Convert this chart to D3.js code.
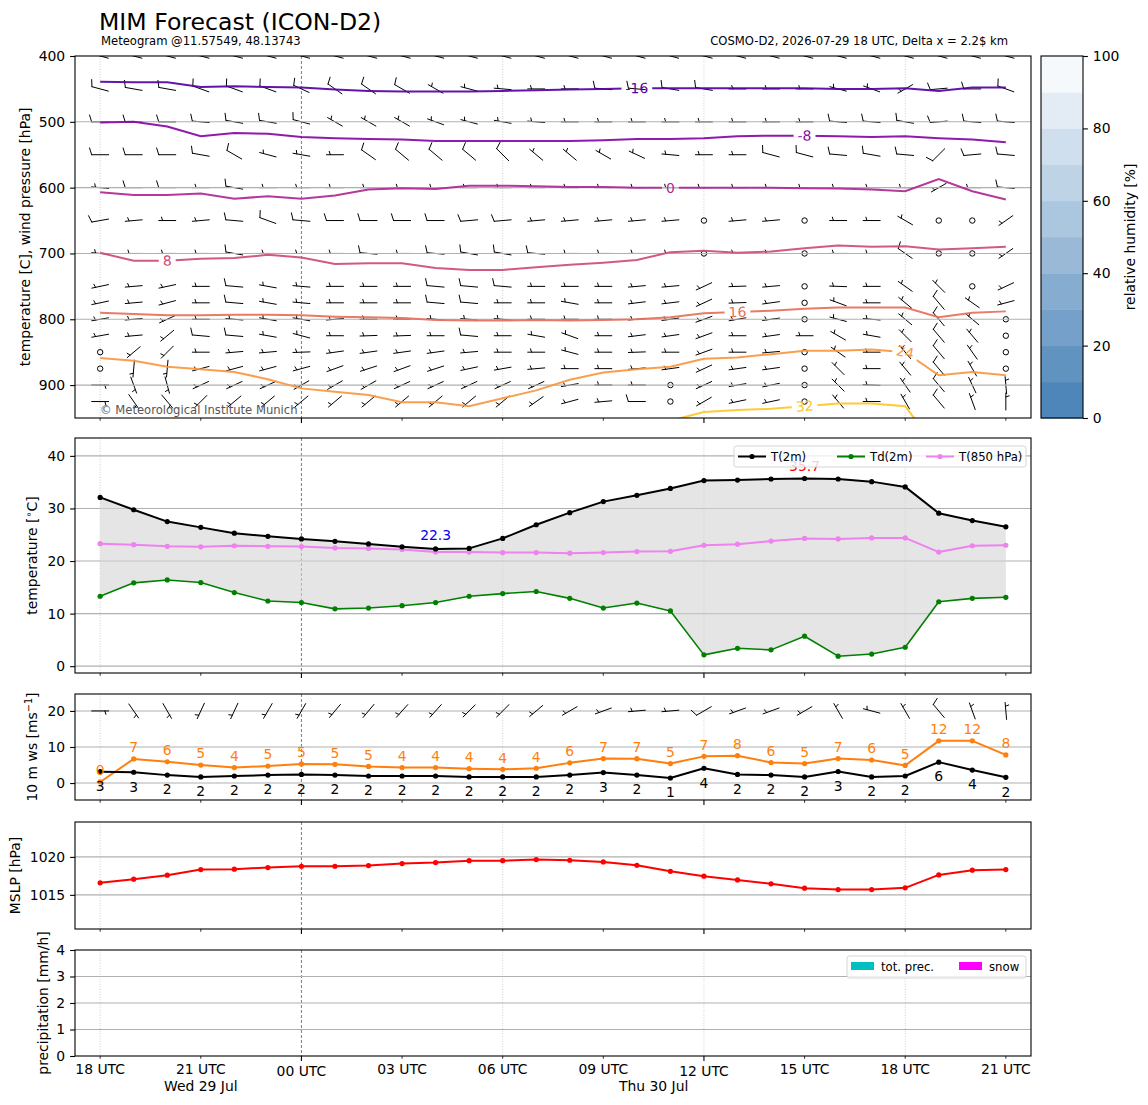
<!DOCTYPE html>
<html>
<head>
<meta charset="utf-8">
<title>MIM Forecast (ICON-D2)</title>
<script src="https://cdn.jsdelivr.net/npm/d3@7"></script>
<style>
  body { margin: 0; background: #fff; }
  svg { font-family: "DejaVu Sans", sans-serif; }
</style>
</head>
<body>
<script>
// ---------------- data ----------------
var hours = [0,1,2,3,4,5,6,7,8,9,10,11,12,13,14,15,16,17,18,19,20,21,22,23,24,25,26,27];
var tickHours = [0,3,6,9,12,15,18,21,24,27];
var tickLabels = ["18 UTC","21 UTC","00 UTC","03 UTC","06 UTC","09 UTC","12 UTC","15 UTC","18 UTC","21 UTC"];
var majorTickHours = [6,18];
var gridHours = [0,12,18,24];
var midnightHour = 6;
var dayLabels = ["Wed 29 Jul","Thu 30 Jul"];
var dayLabelHours = [3,16.5];

// isotherms: pressure [hPa] of each temperature level at every hour
var isoLevels = [-16,-8,0,8,16,24,32];
var isoM16 = [439,440,440,447,446,447,448,451,453,454,454,454,453,452,451,450,449,449,449,449,449,449,450,450,449,453,448,448];
var isoM8  = [501,500,507,522,517,518,523,525,526,527,529,529,529,529,529,528,526,526,525,522,521,521,522,523,522,525,527,531];
var iso0   = [607,611,611,609,617,613,617,612,603,601,602,597,597,598,599,599,600,600,600,600,600,601,601.5,603,605.5,587,605.5,618];
var iso8   = [699,711,711,708,707,702,706,716,715,715,722,725,725,721,717,714,710,698,696,699,697,692,688,690,689,694,692,690];
var iso16  = [790,792,794,794,793,793,794,796,797,798,801,802,802,801,802,801,800,797,791,789,787,784,782,782,782,797,790,788];
var iso24  = [859,863,872,876,880,891,905,910,915,926,926,932,920,908,892,881,876,872,860,858,853,848,848,846,850,885,880,885];
var iso32  = [null,null,null,null,null,null,null,null,null,null,null,null,null,null,null,null,null,954,941,938,936,932,928,928,932,1000,null,null];
var isoLabelHours = [16,21,17,2,19,24,21];

// wind profile: direction [deg, from] and speed [kt] per pressure level
var windLevels = [400,450,500,550,600,650,700,750,775,800,825,850,875,900,925];
var dir400 = [285,285,285,285,285,285,285,285,285,285,285,285,285,285,285,285,285,285,285,285,285,285,285,285,285,285,285,285];
var spd400 = [10,10,10,10,10,10,10,10,10,10,10,10,10,10,10,10,10,10,10,10,10,10,10,10,10,10,10,10];
var dir450 = [285,280,280,290,290,290,295,305,305,300,300,285,275,270,270,275,275,280,280,270,270,270,285,290,240,265,270,290];
var spd450 = [10,10,10,10,10,10,10,10,10,10,5,5,5,5,5,10,10,10,10,5,5,5,5,5,5,10,10,10];
var dir500 = [270,270,270,275,280,280,285,300,300,300,290,285,280,275,270,270,270,270,270,270,270,270,275,275,280,265,275,275];
var spd500 = [10,10,10,10,10,10,10,5,5,5,5,5,5,5,5,5,5,5,5,5,5,5,10,10,10,10,10,10];
var dir550 = [270,270,270,280,300,285,280,270,305,310,310,310,315,310,310,300,295,275,270,270,285,285,275,280,275,225,265,275];
var spd550 = [10,10,10,10,10,5,5,5,10,10,10,10,10,5,5,5,5,5,5,5,10,10,10,10,10,10,10,10];
var dir600 = [275,270,270,270,280,270,270,270,270,270,270,270,270,270,270,270,270,270,270,270,270,270,270,270,270,240,270,275];
var spd600 = [5,10,10,5,10,5,5,5,5,5,5,5,5,5,5,5,5,5,5,5,5,5,5,5,5,5,5,10];
var dir650 = [260,265,270,265,275,290,275,270,270,270,270,265,265,265,265,265,265,265,0,265,265,0,270,270,300,0,0,235];
var spd650 = [10,5,5,5,10,10,10,10,10,10,10,10,10,5,5,5,5,5,0,5,5,0,5,5,5,0,0,5];
var dir700 = [275,270,270,270,280,270,270,270,275,270,275,280,280,275,270,270,270,270,0,270,270,0,270,270,305,0,0,235];
var spd700 = [5,5,5,5,10,5,5,5,10,5,10,10,10,10,5,5,5,5,0,5,5,0,5,5,10,0,0,5];
var dir750 = [258,265,258,270,275,280,275,270,270,270,275,275,275,270,270,270,265,265,245,268,265,0,272,270,305,315,0,245];
var spd750 = [5,5,5,5,10,5,5,5,5,5,10,10,10,5,5,5,5,5,5,5,5,0,5,5,5,5,0,5];
var dir775 = [258,265,255,270,275,280,275,270,270,270,275,275,270,270,280,270,263,263,245,268,262,0,290,270,310,320,305,255];
var spd775 = [5,5,5,5,10,5,5,5,5,5,10,10,5,5,5,5,5,5,5,5,5,0,5,5,5,10,5,5];
var dir800 = [260,265,245,270,275,280,280,265,270,270,275,275,275,270,270,270,265,262,250,260,262,0,285,275,310,320,310,0];
var spd800 = [5,5,5,5,5,5,5,5,5,5,5,5,5,5,5,5,5,5,5,5,5,0,5,5,5,10,5,0];
var dir825 = [260,265,230,275,275,280,285,270,268,268,270,275,270,280,290,270,263,262,250,270,262,270,300,280,315,320,320,0];
var spd825 = [5,5,5,10,10,5,5,5,5,5,5,10,5,5,5,5,5,5,5,5,5,5,5,5,5,10,5,0];
var dir850 = [0,230,225,270,265,265,268,262,262,262,262,265,270,270,285,270,268,270,250,270,265,0,305,270,320,320,325,0];
var spd850 = [0,5,5,5,5,5,5,5,5,5,5,5,5,5,5,5,5,5,5,5,5,0,5,5,5,10,5,0];
var dir875 = [0,185,185,255,255,255,255,250,252,250,252,258,260,265,270,270,265,262,245,262,262,0,315,270,320,320,330,0];
var spd875 = [0,5,5,5,5,5,5,5,5,5,5,5,5,5,5,5,5,5,5,5,5,0,5,5,5,10,5,0];
var dir900 = [90,160,165,245,245,245,240,240,240,245,245,245,245,245,260,270,270,0,245,260,258,0,315,272,325,320,335,355];
var spd900 = [5,5,5,5,5,5,5,5,5,5,5,5,5,5,5,5,5,0,5,5,5,0,5,5,5,10,5,5];
var dir925 = [90,145,140,225,230,230,230,230,230,230,230,230,230,235,255,265,270,0,240,258,258,0,320,270,330,320,340,360];
var spd925 = [5,5,5,5,5,5,5,5,5,5,5,5,5,5,5,5,10,0,5,5,5,0,5,5,5,10,5,5];

// relative humidity colour bar
var rhLevels = [0,10,20,30,40,50,60,70,80,90,100];
var rhTicks = [0,20,40,60,80,100];

// surface
var t2m  = [32.1,29.75,27.5,26.4,25.3,24.7,24.2,23.75,23.25,22.7,22.3,22.4,24.3,26.9,29.2,31.3,32.5,33.8,35.3,35.4,35.6,35.7,35.6,35.1,34.1,29.1,27.7,26.5];
var td2m = [13.3,15.85,16.4,15.9,14.0,12.4,12.1,10.9,11.05,11.5,12.1,13.3,13.8,14.2,12.9,11.05,12.0,10.5,2.15,3.4,3.1,5.7,1.9,2.3,3.6,12.25,12.9,13.1];
var t850 = [23.3,23.1,22.8,22.7,22.9,22.8,22.75,22.5,22.4,22.2,21.7,21.7,21.6,21.6,21.5,21.6,21.8,21.85,23.0,23.2,23.8,24.3,24.2,24.4,24.4,21.7,22.9,23.0];
var ws10   = [3.15,3.0,2.2,1.7,1.95,2.2,2.4,2.2,1.95,1.95,1.95,1.7,1.7,1.7,2.2,2.9,2.2,1.4,4.1,2.4,2.2,1.7,3.2,1.7,1.95,5.8,3.6,1.6];
var gust10 = [0.3,6.7,5.9,5.0,4.3,4.7,5.3,5.2,4.6,4.3,4.3,4.0,3.8,4.1,5.6,6.8,6.75,5.4,7.4,7.6,5.7,5.4,6.8,6.4,4.9,11.7,11.7,7.8];
var dir10  = [90,145,150,205,205,210,210,220,220,222,222,225,225,230,240,250,265,265,240,250,250,240,330,285,330,320,340,355];
var mslp = [1016.58,1017.06,1017.59,1018.33,1018.38,1018.6,1018.77,1018.77,1018.86,1019.12,1019.25,1019.5,1019.5,1019.65,1019.56,1019.34,1018.9,1018.1,1017.46,1016.97,1016.45,1015.88,1015.7,1015.7,1015.92,1017.63,1018.25,1018.33];
var totPrec = [0,0,0,0,0,0,0,0,0,0,0,0,0,0,0,0,0,0,0,0,0,0,0,0,0,0,0,0];
var snowPrec = [0,0,0,0,0,0,0,0,0,0,0,0,0,0,0,0,0,0,0,0,0,0,0,0,0,0,0,0];

// ---------------- layout ----------------
var width = 1148, height = 1105;
var left = 75, right = 1031;
var pProf = {top: 56, bottom: 418};
var pTemp = {top: 438, bottom: 673};
var pWind = {top: 694, bottom: 800};
var pSlp  = {top: 822, bottom: 929};
var pPrec = {top: 950, bottom: 1056};
var fs = 13.9;
var fsLegend = 11.7;

var svg = d3.select("body").append("svg")
  .attr("width", width).attr("height", height);

var x = d3.scaleLinear().domain([-0.75, 27.75]).range([left, right]);
var yP = d3.scaleLinear().domain([400, 950]).range([pProf.top, pProf.bottom]);
var yT = d3.scaleLinear().domain([-1.3, 43.4]).range([pTemp.bottom, pTemp.top]);
var yW = d3.scaleLinear().domain([-4.7, 24.7]).range([pWind.bottom, pWind.top]);
var yS = d3.scaleLinear().domain([1010.5, 1024.6]).range([pSlp.bottom, pSlp.top]);
var yR = d3.scaleLinear().domain([0, 4]).range([pPrec.bottom, pPrec.top]);

function vgrid(g, p) {
  gridHours.forEach(function(h) {
    g.append("line").attr("x1", x(h)).attr("x2", x(h)).attr("y1", p.top).attr("y2", p.bottom)
      .attr("stroke", "#c4c4c4").attr("stroke-width", 0.8).attr("stroke-dasharray", "1,1.6");
  });
  g.append("line").attr("x1", x(midnightHour)).attr("x2", x(midnightHour)).attr("y1", p.top).attr("y2", p.bottom)
    .attr("stroke", "#444").attr("stroke-width", 0.7).attr("stroke-dasharray", "3,2");
}

function hgrid(g, y, ticks) {
  ticks.forEach(function(t) {
    g.append("line").attr("x1", left).attr("x2", right).attr("y1", y(t)).attr("y2", y(t))
      .attr("stroke", "#b0b0b0").attr("stroke-width", 1.1);
  });
}

function yAxis(g, y, ticks, fmt) {
  var ax = g.append("g").attr("transform", "translate(" + left + ",0)")
    .call(d3.axisLeft(y).tickValues(ticks).tickFormat(fmt).tickSize(4.9).tickPadding(4.9));
  ax.attr("font-size", fs).attr("font-family", "DejaVu Sans");
  ax.select(".domain").remove();
  ax.selectAll("line").attr("stroke", "#000").attr("stroke-width", 1.1);
  ax.selectAll("text").attr("fill", "#000");
}

function xTicks(g, p) {
  tickHours.forEach(function(h) {
    var major = majorTickHours.indexOf(h) >= 0;
    g.append("line").attr("x1", x(h)).attr("x2", x(h))
      .attr("y1", p.bottom).attr("y2", p.bottom + (major ? 4.9 : 2.8))
      .attr("stroke", "#000").attr("stroke-width", major ? 1.1 : 0.8);
  });
}

function spine(g, p) {
  g.append("rect").attr("x", left).attr("y", p.top).attr("width", right - left).attr("height", p.bottom - p.top)
    .attr("fill", "none").attr("stroke", "#000").attr("stroke-width", 1.1);
}

function yLabel(g, cx, cy, parts) {
  var t = g.append("text").attr("transform", "translate(" + cx + "," + cy + ") rotate(-90)")
    .attr("text-anchor", "middle").attr("dy", "0.35em").attr("font-size", fs);
  parts.forEach(function(pt) {
    var s = t.append("tspan").text(pt.t);
    if (pt.sup) s.attr("font-size", fs * 0.7).attr("baseline-shift", "super");
  });
}

// wind barb (matplotlib style, pivot middle)
function barb(g, px, py, dir, spd, L) {
  var r = dir * Math.PI / 180;
  var dx = Math.sin(r), dy = Math.cos(r);
  var nx = dy, ny = -dx;
  function pt(s, h) { return [px + dx * s + nx * h, py - (dy * s + ny * h)]; }
  var mag = 5 * Math.floor(spd / 5 + 0.5);
  var nflag = Math.floor(mag / 50); mag = mag % 50;
  var nbarb = Math.floor(mag / 10); mag = mag % 10;
  var half = mag >= 5;
  if (nflag === 0 && nbarb === 0 && !half) {
    g.append("circle").attr("cx", px).attr("cy", py).attr("r", 0.16 * L)
      .attr("fill", "none").attr("stroke", "#000").attr("stroke-width", 1);
    return;
  }
  var fh = 0.4 * L, fw = 0.25 * L, sp = 0.15 * L;
  var path = d3.path();
  var a = pt(-L / 2, 0), b = pt(L / 2, 0);
  path.moveTo(a[0], a[1]); path.lineTo(b[0], b[1]);
  var off = L / 2;
  for (var i = 0; i < nflag; i++) {
    var f1 = pt(off, 0), f2 = pt(off - fw / 2, fh), f3 = pt(off - fw, 0);
    path.moveTo(f1[0], f1[1]); path.lineTo(f2[0], f2[1]); path.lineTo(f3[0], f3[1]); path.closePath();
    off -= fw + sp;
  }
  for (var j = 0; j < nbarb; j++) {
    var b1 = pt(off, 0), b2 = pt(off + fw / 2, fh);
    path.moveTo(b1[0], b1[1]); path.lineTo(b2[0], b2[1]);
    off -= sp;
  }
  if (half) {
    if (off === L / 2) off -= 1.5 * sp;
    var h1 = pt(off, 0), h2 = pt(off + fw / 4, fh / 2);
    path.moveTo(h1[0], h1[1]); path.lineTo(h2[0], h2[1]);
  }
  g.append("path").attr("d", path.toString()).attr("fill", nflag ? "#000" : "none")
    .attr("stroke", "#000").attr("stroke-width", 1).attr("stroke-linecap", "round");
}

function valAt(arr, h) {
  var i = Math.floor(h), f = h - i;
  if (f === 0 || arr[i + 1] == null) return arr[i];
  return arr[i] * (1 - f) + arr[i + 1] * f;
}

// ---------------- titles ----------------
svg.append("text").attr("x", 99).attr("y", 29.5).attr("font-size", 23.6).text("MIM Forecast (ICON-D2)");
svg.append("text").attr("x", 101).attr("y", 44.5).attr("font-size", 11.6).text("Meteogram @11.57549, 48.13743");
svg.append("text").attr("x", 1008).attr("y", 44.5).attr("font-size", 11.6).attr("text-anchor", "end")
  .text("COSMO-D2, 2026-07-29 18 UTC, Delta x = 2.2$ km");

var defs = svg.append("defs");

// ---------------- panel 1: profile ----------------
defs.append("clipPath").attr("id", "clipProf").append("rect")
  .attr("x", left).attr("y", pProf.top).attr("width", right - left).attr("height", pProf.bottom - pProf.top);

var g1 = svg.append("g");
vgrid(g1, pProf);

var windDirs = [dir400,dir450,dir500,dir550,dir600,dir650,dir700,dir750,dir775,dir800,dir825,dir850,dir875,dir900,dir925];
var windSpds = [spd400,spd450,spd500,spd550,spd600,spd650,spd700,spd750,spd775,spd800,spd825,spd850,spd875,spd900,spd925];
var gb = g1.append("g").attr("clip-path", "url(#clipProf)");
windLevels.forEach(function(lev, k) {
  hours.forEach(function(h, i) {
    barb(gb, x(h), yP(lev), windDirs[k][i], windSpds[k][i], 17);
  });
});

hgrid(g1, yP, [500,600,700,800,900]);

var isoSeries = [isoM16, isoM8, iso0, iso8, iso16, iso24, iso32];
var isoColor = function(t) { return d3.interpolatePlasma((t + 26) / 66); };
var gc = g1.append("g").attr("clip-path", "url(#clipProf)");
var isoLine = d3.line().defined(function(d) { return d != null; })
  .x(function(d, i) { return x(hours[i]); }).y(function(d) { return yP(d); });

isoLevels.forEach(function(lev, k) {
  var arr = isoSeries[k];
  var col = isoColor(lev);
  var h = isoLabelHours[k];
  var lx = x(h), ly = yP(valAt(arr, h));
  var p0 = valAt(arr, Math.max(h - 0.25, 0)), p1 = valAt(arr, Math.min(h + 0.25, 27));
  var ang = Math.atan2(yP(p1) - yP(p0), x(h + 0.25) - x(h - 0.25)) * 180 / Math.PI;
  ang = Math.max(-12, Math.min(12, ang));
  var lbl = gc.append("text").attr("x", 0).attr("y", 0).attr("text-anchor", "middle").attr("dy", "0.35em")
    .attr("font-size", fs).attr("fill", col)
    .attr("transform", "translate(" + lx + "," + ly + ") rotate(" + ang + ")")
    .text(String(lev));
  var tw = lbl.node().getComputedTextLength() + 8;
  var m = defs.append("mask").attr("id", "isoMask" + k).attr("maskUnits", "userSpaceOnUse")
    .attr("x", 0).attr("y", 0).attr("width", width).attr("height", height);
  m.append("rect").attr("x", 0).attr("y", 0).attr("width", width).attr("height", height).attr("fill", "#fff");
  m.append("rect").attr("x", -tw / 2).attr("y", -9).attr("width", tw).attr("height", 18).attr("fill", "#000")
    .attr("transform", "translate(" + lx + "," + ly + ") rotate(" + ang + ")");
  gc.insert("path", "text").attr("d", isoLine(arr)).attr("fill", "none").attr("stroke", col)
    .attr("stroke-width", 2).attr("stroke-opacity", 0.92).attr("mask", "url(#isoMask" + k + ")");
});

yAxis(g1, yP, [400,500,600,700,800,900], d3.format("d"));
xTicks(g1, pProf);
g1.append("text").attr("x", 100).attr("y", 414).attr("font-size", 11.6).attr("fill", "#555")
  .text("\u00a9 Meteorological Institute Munich");
spine(g1, pProf);
yLabel(g1, 25, (pProf.top + pProf.bottom) / 2, [{t: "temperature [C], wind pressure [hPa]"}]);

// colour bar
var cbx = 1041, cbw = 42;
var yRH = d3.scaleLinear().domain([0, 100]).range([pProf.bottom, pProf.top]);
var rhColor = d3.interpolateRgb("rgb(79,134,186)", "rgb(245,249,252)");
var gcb = svg.append("g");
gcb.selectAll("rect.band").data(rhLevels.slice(0, -1)).enter().append("rect")
  .attr("x", cbx).attr("width", cbw)
  .attr("y", function(d, i) { return yRH(rhLevels[i + 1]); })
  .attr("height", function(d, i) { return yRH(d) - yRH(rhLevels[i + 1]) + 0.5; })
  .attr("fill", function(d, i) { return rhColor(i / 9); });
gcb.append("rect").attr("x", cbx).attr("y", pProf.top).attr("width", cbw).attr("height", pProf.bottom - pProf.top)
  .attr("fill", "none").attr("stroke", "#000").attr("stroke-width", 1.1);
var cax = gcb.append("g").attr("transform", "translate(" + (cbx + cbw) + ",0)")
  .call(d3.axisRight(yRH).tickValues(rhTicks).tickSize(4.9).tickPadding(4.9).tickFormat(d3.format("d")));
cax.attr("font-size", fs).attr("font-family", "DejaVu Sans");
cax.select(".domain").remove();
cax.selectAll("line").attr("stroke", "#000").attr("stroke-width", 1.1);
cax.selectAll("text").attr("fill", "#000");
yLabel(gcb, 1130, (pProf.top + pProf.bottom) / 2, [{t: "relative humidity [%]"}]);

// ---------------- panel 2: temperature ----------------
var g2 = svg.append("g");
vgrid(g2, pTemp);
hgrid(g2, yT, [0,10,20,30,40]);
var lineOf = function(y) {
  return d3.line().x(function(d, i) { return x(hours[i]); }).y(function(d) { return y(d); });
};
g2.append("path").datum(t2m)
  .attr("d", d3.area().x(function(d, i) { return x(hours[i]); })
    .y0(function(d, i) { return yT(td2m[i]); }).y1(function(d) { return yT(d); }))
  .attr("fill", "#d3d3d3").attr("fill-opacity", 0.6);

function series(g, data, y, col, lw, r) {
  g.append("path").attr("d", lineOf(y)(data)).attr("fill", "none").attr("stroke", col)
    .attr("stroke-width", lw).attr("stroke-linejoin", "round");
  g.selectAll(null).data(data).enter().append("circle")
    .attr("cx", function(d, i) { return x(hours[i]); }).attr("cy", function(d) { return y(d); })
    .attr("r", r).attr("fill", col);
}
series(g2, t850, yT, "#ee82ee", 2, 2.6);
series(g2, td2m, yT, "#008000", 1.6, 2.6);
series(g2, t2m, yT, "#000", 2, 2.6);

var iMin = d3.minIndex(t2m), iMax = d3.maxIndex(t2m);
g2.append("text").attr("x", x(hours[iMin])).attr("y", yT(t2m[iMin]) - 14).attr("dy", "0.35em")
  .attr("text-anchor", "middle").attr("font-size", fs).attr("fill", "blue").text(d3.format(".1f")(t2m[iMin]));
g2.append("text").attr("x", x(hours[iMax])).attr("y", yT(t2m[iMax]) - 12).attr("dy", "0.35em")
  .attr("text-anchor", "middle").attr("font-size", fs).attr("fill", "red").text(d3.format(".1f")(t2m[iMax]));

// legend (semi-transparent, drawn over the maximum label as in the original)
var lg = g2.append("g");
lg.append("rect").attr("x", 734).attr("y", 446).attr("width", 292).attr("height", 21).attr("rx", 2.5)
  .attr("fill", "#fff").attr("fill-opacity", 0.8).attr("stroke", "#d0d0d0").attr("stroke-width", 0.9);
[{n: "T(2m)", c: "#000", x0: 738}, {n: "Td(2m)", c: "#008000", x0: 837}, {n: "T(850 hPa)", c: "#ee82ee", x0: 926}]
  .forEach(function(e) {
    lg.append("line").attr("x1", e.x0).attr("x2", e.x0 + 28).attr("y1", 456.5).attr("y2", 456.5)
      .attr("stroke", e.c).attr("stroke-width", 2);
    lg.append("circle").attr("cx", e.x0 + 14).attr("cy", 456.5).attr("r", 2.6).attr("fill", e.c);
    lg.append("text").attr("x", e.x0 + 33).attr("y", 460.7).attr("font-size", fsLegend).text(e.n);
  });

yAxis(g2, yT, [0,10,20,30,40], d3.format("d"));
xTicks(g2, pTemp);
spine(g2, pTemp);
yLabel(g2, 32, (pTemp.top + pTemp.bottom) / 2, [{t: "temperature ["}, {t: "\u2218", sup: true}, {t: "C]"}]);

// ---------------- panel 3: 10 m wind ----------------
var g3 = svg.append("g");
vgrid(g3, pWind);
hgrid(g3, yW, [0,10,20]);
hours.forEach(function(h, i) {
  barb(g3, x(h), yW(20), dir10[i], ws10[i] * 1.944, 17);
});
series(g3, gust10, yW, "#ff7f0e", 2, 2.6);
series(g3, ws10, yW, "#000", 2, 2.6);
var f0 = d3.format(".0f");
g3.selectAll("text.gl").data(gust10).enter().append("text")
  .attr("x", function(d, i) { return x(hours[i]); }).attr("y", function(d) { return yW(d + 3.2); })
  .attr("dy", "0.35em").attr("text-anchor", "middle").attr("font-size", fs).attr("fill", "#ff7f0e")
  .text(function(d) { return f0(d); });
g3.selectAll("text.wl").data(ws10).enter().append("text")
  .attr("x", function(d, i) { return x(hours[i]); }).attr("y", function(d) { return yW(d - 4); })
  .attr("dy", "0.35em").attr("text-anchor", "middle").attr("font-size", fs).attr("fill", "#000")
  .text(function(d) { return f0(d); });
yAxis(g3, yW, [0,10,20], d3.format("d"));
xTicks(g3, pWind);
spine(g3, pWind);
yLabel(g3, 32, (pWind.top + pWind.bottom) / 2, [{t: "10 m ws [ms"}, {t: "\u22121", sup: true}, {t: "]"}]);

// ---------------- panel 4: MSLP ----------------
var g4 = svg.append("g");
vgrid(g4, pSlp);
hgrid(g4, yS, [1015,1020]);
series(g4, mslp, yS, "red", 2, 2.6);
yAxis(g4, yS, [1015,1020], d3.format("d"));
xTicks(g4, pSlp);
spine(g4, pSlp);
yLabel(g4, 15.5, (pSlp.top + pSlp.bottom) / 2, [{t: "MSLP [hPa]"}]);

// ---------------- panel 5: precipitation ----------------
var g5 = svg.append("g");
vgrid(g5, pPrec);
hgrid(g5, yR, [1,2,3]);
var bw = x(0.8) - x(0);
g5.selectAll("rect.tp").data(totPrec).enter().append("rect")
  .attr("x", function(d, i) { return x(hours[i]) - bw / 2; }).attr("width", bw)
  .attr("y", function(d) { return yR(d); }).attr("height", function(d) { return yR(0) - yR(d); })
  .attr("fill", "#00bfbf");
g5.selectAll("rect.sn").data(snowPrec).enter().append("rect")
  .attr("x", function(d, i) { return x(hours[i]) - bw / 2; }).attr("width", bw)
  .attr("y", function(d) { return yR(d); }).attr("height", function(d) { return yR(0) - yR(d); })
  .attr("fill", "#ff00ff");
var lg5 = g5.append("g");
lg5.append("rect").attr("x", 847).attr("y", 956).attr("width", 179).attr("height", 22).attr("rx", 2.5)
  .attr("fill", "#fff").attr("fill-opacity", 0.8).attr("stroke", "#d0d0d0").attr("stroke-width", 0.9);
[{n: "tot. prec.", c: "#00bfbf", x0: 851}, {n: "snow", c: "#ff00ff", x0: 959}].forEach(function(e) {
  lg5.append("rect").attr("x", e.x0).attr("y", 962).attr("width", 23).attr("height", 8).attr("fill", e.c);
  lg5.append("text").attr("x", e.x0 + 30).attr("y", 970.5).attr("font-size", fsLegend).text(e.n);
});
yAxis(g5, yR, [0,1,2,3,4], d3.format("d"));
xTicks(g5, pPrec);
spine(g5, pPrec);
yLabel(g5, 43, (pPrec.top + pPrec.bottom) / 2, [{t: "precipitation [mm/h]"}]);

// x tick labels
tickHours.forEach(function(h, i) {
  var major = majorTickHours.indexOf(h) >= 0;
  svg.append("text").attr("x", x(h)).attr("y", pPrec.bottom + (major ? 4.9 : 2.8) + 4.9 + 10.6)
    .attr("text-anchor", "middle").attr("font-size", fs).text(tickLabels[i]);
});
dayLabels.forEach(function(d, i) {
  svg.append("text").attr("x", x(dayLabelHours[i])).attr("y", pPrec.bottom + 2.8 + 4.9 + 10.6 + 16.2)
    .attr("text-anchor", "middle").attr("font-size", fs).text(d);
});
</script>
</body>
</html>
